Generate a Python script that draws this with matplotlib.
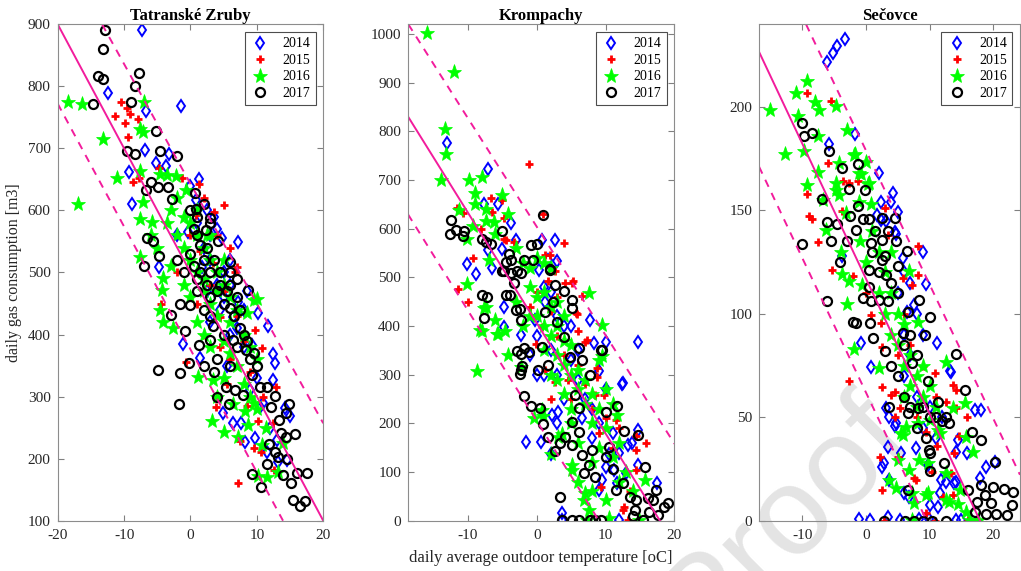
import matplotlib
matplotlib.use("Agg")
import matplotlib.pyplot as plt
import numpy as np

plt.rcParams['font.family'] = ['Liberation Serif', 'DejaVu Serif']
plt.rcParams['axes.unicode_minus'] = False

years = ["2014", "2015", "2016", "2017"]
titles = ["Tatranské Zruby", "Krompachy", "Sečovce"]

# (temperature [oC], gas consumption [m3])
tz_2014 = [(-7.35,891),(-12.4,789),(-1.4,768),(-6.75,760),(-6.8,698),(-9.3,662),(-8.8,610),(-5.2,676),
           (-3.7,671),(-3.3,691),(1.3,650),(0,640),(4.8,555),(7.1,549),(-4.7,509),(0.9,617),(1.7,509),
           (7.2,452),(10.1,434),(11.7,414),(-1.1,384),(6.4,429),(-0.3,566),(12.4,369),(12.7,354),
           (12.5,327),(9.2,383),(4.9,273),(6.4,257),(7.6,257),(9.7,234),(8.2,227),(11.6,211),(15,268),
           (13.2,195),(14.5,198),(14.2,281),(10.5,284),(1.4,362),(2.5,600),(3.5,590),(4,570),(2,540),
           (3,520),(5,500),(6,480),(2.5,470),(4.5,440),(6,400),(8,380),(3,420),(5.5,350),(10,330),
           (9,310),(11,290),(12,250),(13,230),(-2,560),(1,580),(8.5,470),(4,480),(5,460),(7,410),
           (8,440),(3,560),(6,520)]
tz_2015 = [(-10.4,775),(-9.5,765),(-9.1,756),(-11.4,752),(-9.9,741),(-7.9,748),(-9.4,718),(-8.6,646),
           (-7.7,652),(-4.8,668),(-1.3,652),(1.3,642),(5,609),(3.6,598),(7,509),(6.7,501),(0.8,592),
           (1.4,534),(3.4,515),(-4.4,449),(9.7,407),(10.7,379),(4.4,429),(-0.6,356),(3.9,284),
           (12.9,316),(7.1,161),(9.6,217),(10.6,211),(12.6,182),(7.5,229),(10.1,260),(12.5,257),
           (2,620),(4,560),(6,540),(5,470),(3,480),(7,430),(8,390),(6,360),(9,340),(11,300),(2,400),
           (1,450),(-2,500),(0,560),(8.5,285),(5.5,320),(4.5,380)]
tz_2016 = [(-18.4,775),(-16.4,771),(-13.2,715),(-17,610),(-7,775),(-7.6,732),(-7.2,727),(-11.1,652),
           (-7.6,664),(-4.6,659),(-2.2,656),(-7.1,614),(-7.6,586),(-5.8,582),(-7.6,525),(-4.3,472),
           (-4.6,440),(-4.1,421),(-2.6,410),(1.1,332),(3.4,327),(3.2,260),(5,243),(7.2,235),(8.7,254),
           (11.5,171),(10.1,172),(10.7,222),(8.2,276),(9.5,290),(6.4,288),(8.5,435),(9.5,455),(14,225),
           (11.4,249),(13.2,179),(-3.6,657),(-0.6,633),(-4.1,491),(10,458),(-3,600),(-2,560),(-1,540),
           (0,520),(-1,480),(1,500),(2,470),(3,450),(4,430),(1,420),(2,400),(5,390),(6,370),(7,350),
           (5,330),(4,300),(-2,620),(-5,540),(-3,510),(0,460),(3,380),(8,320),(9,300),(10,280),(6,420),
           (-6,560),(-3.5,580),(2.5,560),(1,600),(-1,590),(1,560),(2,540),(3,520),(4,500),(5,480),
           (6,460),(7,440),(4,470),(2,490),(0,580),(3,560),(5,520),(8,400),(9,380),(10,360)]
tz_2017 = [(-12.9,890),(-13.2,860),(-13.9,817),(-13.1,811),(-14.7,772),(-9,775),(-7.7,821),(-8.4,800),
           (-9.6,695),(-8.3,691),(-5.2,728),(-4.6,696),(-2.1,687),(-5.9,646),(-4.9,638),(-6.75,633),
           (-3.4,637),(-2.8,618),(0.7,628),(0.9,603),(-6.6,555),(-5.6,550),(-7,511),(-4.8,527),(2.9,587),
           (2.4,568),(5.9,517),(4.2,550),(8.7,472),(-4.9,343),(-1.6,338),(-1.7,288),(-0.8,405),(-0.2,354),
           (4,300),(5.8,288),(5.4,316),(6.7,311),(7.9,303),(9.2,335),(10.4,316),(11.5,316),(12.7,301),
           (12.2,284),(13.3,262),(13.6,242),(11.9,223),(12.7,211),(13.2,203),(14.5,200),(11.5,192),
           (9.2,176),(10.6,154),(13.9,174),(15.1,160),(16,177),(17.5,177),(15.5,133),(16.5,124),
           (17.2,132),(14.9,288),(14.4,273),(14.4,235),(15.7,239),(8.3,375),(6.4,391),(3,391),(1.3,383),
           (-2.9,432),(-1.6,450),(-0.1,448),(3.4,413),(5.9,442),(0,600),(1,590),(2,610),(0.5,570),
           (1.5,545),(0,530),(2,520),(3,500),(1,490),(2.5,480),(4,470),(3,460),(5,450),(4.5,500),(6,480),
           (7,460),(7.5,440),(8,400),(7,380),(9,360),(10,350),(6,350),(4,360),(5,400),(3,430),(2,440),
           (-1,500),(-2,520),(1,470),(2,350),(3.5,340),(0.5,510),(1.5,500),(2.5,540),(3.5,520),
           (4.5,480),(5.5,470),(6.5,430),(7.5,410),(8.5,390),(9.5,370),(1,560),(3,580),(6,500),(7,490)]

kr_2014 = [(-13,776),(-7.1,723),(-7.6,651),(-7.1,557),(-10.1,528),(-8.8,506),(-6.5,520),(-5,559),
           (-3.8,611),(-3,577),(0.7,577),(2.6,577),(2.9,533),(0.3,516),(-5.7,651),(-4.7,439),(-4.7,398),
           (-1.5,162),(0.6,161),(2.1,138),(7.8,413),(8.3,365),(10,367),(14.7,367),(12.4,280),(10,270),
           (9,308),(9,63),(9.5,84),(11.7,77),(13.2,155),(14.7,186),(17.4,77),(11.9,1),(3.6,15),
           (11.2,104),(2.2,217),(3.1,224),(6.6,210),(10.5,138),(14.7,114),(13.9,159),(-2.3,381),
           (1.7,535),(1.2,449),(-0.3,412),(12.5,282),(3.6,1),(13,97),(1,480),(2,470),(3,420),(4,400),
           (0,380),(2,350),(3,300),(5,330),(6,290),(4,250),(7,250),(8,230),(1,300),(5,400),(6,350),
           (9,200),(11,180),(12,140),(10,110),(8,170),(-1,340),(0,300),(3,200)]
kr_2015 = [(-1.1,733),(0.9,631),(4,570),(-3.3,572),(-4.7,622),(-5.1,658),(-6.6,663),(-6.5,635),
           (-11.6,643),(-10.7,633),(-9.3,540),(-8.1,599),(-11.5,477),(1.2,545),(1.9,545),(2.6,514),
           (1.7,493),(5.1,488),(-4.4,576),(-10,449),(6.6,461),(5.8,425),(7,367),(8.8,313),(8.8,296),
           (8.5,258),(9.7,258),(11.5,207),(11.9,190),(15.9,159),(14.4,174),(14.4,104),(9.3,70),
           (12.5,22),(13.2,1),(13.5,60),(2.1,251),(-0.1,364),(0.7,398),(1.2,309),(2.6,285),(4.6,289),
           (4.1,489),(5.2,492),(5.7,427),(7.3,371),(-4.7,579),(14.4,145),(12.7,29),(0,470),(2,430),
           (3,380),(4,340),(6,320),(7,280),(5,250),(8,230),(10,210),(9,180),(11,150),(-1,440),(3,460),
           (6,390)]
kr_2016 = [(-16,1002),(-12,921),(-13.3,805),(-13.2,754),(-13.9,700),(-9.9,699),(-7.9,706),(-8.9,673),
           (-9,651),(-11.3,639),(-7.4,641),(-5.1,670),(-7.3,615),(-6.2,613),(-9.3,605),(-10.1,579),
           (-4.2,631),(-6.1,590),(-6.9,536),(-10.2,487),(-7.4,439),(-6.1,412),(-7.9,389),(-5.7,383),
           (-4.6,389),(-8.7,308),(-4.2,340),(-2.3,315),(-0.4,210),(0.9,215),(7.6,468),(9.5,402),
           (9.5,338),(11.7,217),(5.1,114),(6.8,42),(7.6,22),(7.3,1),(10,42),(10.5,5),(14.9,1),(15.7,84),
           (3.1,172),(2.1,138),(7,56),(5.1,104),(3.6,179),(0.7,227),(-7.7,436),(-5.8,384),(-8.2,391),
           (-3,560),(-2,530),(-1,520),(0,540),(1,530),(2,520),(-1,480),(0,460),(1,470),(2,440),(3,450),
           (0,420),(1,400),(2,380),(3,400),(4,370),(5,360),(3,340),(4,320),(5,300),(6,310),(7,290),
           (6,270),(8,260),(7,240),(9,230),(8,200),(10,190),(4,260),(5,230),(3,290),(1,350),(-1,420),
           (12,160),(11,130),(13,100),(9,150),(8,120),(6,160),(-3,450),(-2,400),(6,80),(8,60),(12,80),
           (14,60),(5,200),(2,300),(4,420),(9,330),(10,270),(11,240)]
kr_2017 = [(0.9,629),(-12.4,617),(-11.7,598),(-12.6,590),(-10.6,596),(-10.7,584),(-7.9,579),(-7.4,572),
           (-6.6,569),(-5,595),(-0.8,566),(0.1,569),(-0.6,535),(1.9,516),(-4.5,531),(-4,549),(-4.7,514),
           (-3.8,509),(-2.3,509),(-3.3,488),(2.6,484),(-7.9,463),(-7.2,460),(-7.7,417),(-3.9,463),
           (-3,432),(-2.3,413),(-2.9,349),(-1.1,347),(-2.2,317),(-2.4,301),(-1.8,256),(-0.9,235),
           (0.4,231),(0.9,198),(1.7,172),(2.6,143),(3.4,49),(3.6,1),(5.1,1),(6.1,1),(7.8,1),(8.5,1),
           (9.3,1),(3.4,159),(4.1,172),(5.1,155),(6.6,135),(6.8,99),(7.6,114),(8.5,90),(8,146),(10,131),
           (11,107),(11.5,63),(11.7,235),(12.7,185),(14.7,176),(15.7,111),(13.5,49),(14.4,42),(14.2,22),
           (16.2,46),(16.9,42),(17.3,63),(16.3,17),(17.6,12),(18.5,29),(19,37),(9.4,350),(10,224),
           (10.5,152),(12.5,77),(6.1,231),(5.6,258),(7.8,299),(6.6,330),(5.1,203),(6.1,183),(-4.5,463),
           (-2.5,434),(-3.8,535),(-2.8,514),(-5,514),(-1.8,535),(1.9,518),(4,471),(5.1,453),(5.1,436),
           (2.4,449),(1.2,429),(2.9,408),(3.9,378),(0.7,357),(-1.8,354),(-2.3,343),(4.8,336),(6.1,355),
           (9.5,350),(0.2,309),(1.7,319),(-2.3,309),(15.5,1),(14,10)]

se_2014 = [(-6.1,221.6),(-5.2,226),(-4.5,229.6),(-3.3,233),(-5.8,182.3),(-1.7,187),(2.1,168),(4.2,158.4),
           (4,154.3),(2.3,153.9),(5,149),(4.5,139.8),(8.9,129.7),(9.5,114.5),(-3.8,128),(2.3,145.5),
           (5.8,127),(4.8,138.7),(7.6,104.4),(6.5,101),(1.8,147.9),(3.2,144.7),(-0.8,86.1),(0.8,74.5),
           (11.1,85.8),(13.4,72.1),(3.2,54.4),(3.6,50.3),(4.5,45.8),(3.4,35.8),(2.6,26.1),(3.7,19.7),
           (17.1,53.6),(18.1,53.6),(15.8,32.6),(18.9,26.1),(20.2,28.5),(17.9,20.5),(-1.1,0.7),(0.7,0.3),
           (11.8,19.7),(13.9,18.1),(10,7.6),(11.3,6.8),(6,13.3),(5.3,0.3),(15,0.3),(9.7,26.9),(7.9,35),
           (14.2,33.4),(3.4,1.9),(8.4,0.7),(9.9,0.7),(11.6,13.3),(12.6,18.9),(14.1,18.9),(14.2,0.3),
           (13.2,72.6),(4.7,47.1),(2.8,28.1),(6.8,11.6),(5.5,32.6),(14.4,39),(5,110),(6,120),(7,115),
           (8,100),(9,90),(7,80),(6,70),(8,60),(10,55),(9,45),(12,50),(11,40),(6,90)]
se_2015 = [(-9.3,206.8),(-5.5,202.7),(-5.9,172.9),(-3.6,164),(-1.3,164),(-2.6,163.2),(-9.2,157.9),
           (-8.9,147.4),(-8.5,146),(-7.5,134.7),(-3.8,149.5),(3,151.1),(3.4,138.2),(-5.3,121),
           (-2.1,118.5),(8.1,132.6),(8.2,118.9),(7.3,114),(5.8,117.3),(0.8,99.5),(2.4,95.5),(-2.7,67.3),
           (2.6,64.8),(3.9,60.8),(5.3,54.4),(4.6,50.3),(2.2,31),(2.6,14.9),(5,30.7),(9.4,43.1),(11.2,36.1),
           (13.9,32.9),(14.6,41),(12.6,57.6),(13.7,65.6),(14.2,63.2),(10.8,71.3),(10.3,23.7),(12.1,11.6),
           (13.7,12.4),(10.8,0),(2.9,0),(17.5,0.3),(7.6,20.5),(15.8,50.3),(2.6,84.2),(4.5,62.4),
           (7.8,19.7),(9.5,3.6),(13.4,22.9),(14.2,54.4),(16,0.3),(0,110),(6,100),(7,85),(9,75),(11,60),
           (5,80),(8,50)]
se_2016 = [(-15.1,198.4),(-12.7,177.4),(-11,206.8),(-9.2,212.4),(-8,202.2),(-7.4,198.7),(-10.7,195.5),
           (-7.5,185.8),(-9.7,178.5),(-9.2,162.4),(-7.5,168.8),(-6.8,155.2),(-4.7,200.6),(-2.9,188.7),
           (-1.7,177.4),(0,173.2),(-4.2,172.9),(-0.8,167.7),(-4.7,163.2),(0.4,162.7),(-4.2,157.6),
           (-1.1,154.3),(0.8,153.1),(-6.3,140.6),(-3.9,130.1),(-3.7,119.2),(-2.6,116),(-0.6,114),
           (6.8,120.5),(-3.2,148.7),(-2.9,104.8),(-1.8,83.1),(2.1,73.7),(5.5,42.3),(6.3,45.5),(8.1,47.1),
           (5,29.4),(6.8,24.5),(8.4,29.4),(9.7,27.8),(9.7,13.3),(7.6,8.4),(12.6,10),(14.4,8.1),(16.3,0.3),
           (15.7,4.4),(16.8,33.4),(15.7,40.6),(15.5,57.1),(13.7,54.4),(12.6,22.9),(11.6,42.3),(3.7,19.7),
           (7.3,0.3),(-1.8,176.9),(-1.1,168),(0.5,163.2),(-4.7,160),(8.1,96.3),(12.6,76.9),(14.7,14.9),
           (17.6,0.3),(5.8,41.5),(10,48.7),(11.3,43.9),(7.3,13.3),(9.5,12.4),(13.1,9.2),(4.7,15.7),
           (1,140),(2,130),(3,120),(4,110),(5,100),(6,95),(5,85),(4,90),(7,80),(6,75),(8,70),(7,65),
           (9,60),(8,55),(10,65),(3,100),(2,110),(0,125),(-1,135),(4,130),(6,60),(9,75),(11,55)]
se_2017 = [(-10,192.2),(-9.7,185.8),(-8.4,187.4),(-5.8,178.5),(-3.8,170.5),(-1.3,172.6),(-2.7,160.3),
           (-0.1,159.7),(-1.3,151.9),(-6.9,155.5),(-6.1,144.2),(-4.6,143.5),(-5.5,135),(-10.1,133.7),
           (-2.5,147.4),(4.5,146.3),(2.5,146.3),(4.7,135),(6.5,130.5),(5,122.9),(-0.5,145.8),(0.5,145.8),
           (-1.6,140.6),(0.8,134.2),(2.6,135.8),(2.6,126.1),(3.2,118.9),(0.5,121.3),(0.5,113.2),
           (-0.5,107.6),(0.8,106),(2.1,106.8),(3.4,106),(6.6,101.1),(8.4,106.8),(10,98.7),(-2.1,96.3),
           (0.7,95.5),(-6.1,106),(-1.6,95.8),(1.1,88.2),(5.8,90.6),(9.2,89.8),(14.2,80.5),(15.5,63.2),
           (11.3,57.6),(12.6,50.3),(16.6,43.1),(18.1,39),(20.2,28.5),(18.1,17.3),(16,14.9),(18.7,12.4),
           (20,16.5),(21.7,15.2),(23.1,14),(19.7,8.4),(23,7.6),(18.8,3.1),(20.4,3.1),(22.2,2.8),
           (17.1,4.4),(2.8,0),(6.2,0),(7.6,0),(8.9,0),(10.3,0),(12.6,0),(6.6,14.9),(10,32.6),(12.3,27.8),
           (3.7,55.2),(6.6,52),(9.7,67.3),(7.3,76.2),(8.1,54.4),(9.5,39.9),(9.9,34.2),(10.1,24.2),
           (17.5,9.2),(-3,135),(-4,125),(1,130),(2,120),(3,128),(4,115),(1.5,140),(3.5,140),(5,110),
           (6,85),(7,90),(8,80),(5,70),(6,60),(7,55),(8,45),(10,50),(11,50),(12,48),(13,47),(9,55),
           (4,75),(3,82)]

# regression line and band: (intercept, slope) for fit, upper, lower
tz_lines = [(500, -20), (643, -19.3), (376, -19.8)]
kr_lines = [(406, -22.7), (604, -22.3), (205, -22.7)]
se_lines = [(117, -6.53), (179, -6.48), (62, -6.5)]

data = [[tz_2014, tz_2015, tz_2016, tz_2017],
        [kr_2014, kr_2015, kr_2016, kr_2017],
        [se_2014, se_2015, se_2016, se_2017]]
lines = [tz_lines, kr_lines, se_lines]

xlims = [(-20, 20), (-18.7, 20), (-16.8, 24.2)]
ylims = [(100, 900), (0, 1020), (0, 240)]
yticks = [np.arange(100, 901, 100), np.arange(0, 1001, 100), np.arange(0, 201, 50)]
xticks = [[-20, -10, 0, 10, 20], [-10, 0, 10, 20], [-10, 0, 10, 20]]

styles = [dict(marker='d', ms=6.5, mfc='none', mec='#0000ff', mew=1.4),
          dict(marker='+', ms=5.5, mec='#ff0000', mew=2.0),
          dict(marker='*', ms=11, mfc='#00ff00', mec='#00ff00', mew=0.5),
          dict(marker='o', ms=6.5, mfc='none', mec='#000000', mew=1.6)]

pink = '#f21c9c'

fig = plt.figure(figsize=(10.21, 5.71), dpi=100)
fig.text(0.769, 0.089, 'Proof', rotation=45, fontsize=90, color='#e4e4e4',
         ha='center', va='center', zorder=-5, family='Liberation Sans')

lefts = [0.0565, 0.3996, 0.7434]
widths = [0.2601, 0.2610, 0.2556]

for i in range(3):
    ax = fig.add_axes([lefts[i], 0.0881, widths[i], 0.8694])
    ax.patch.set_alpha(0)
    for j, yr in enumerate(years):
        t, q = np.array(data[i][j]).T
        ax.plot(t, q, ls='none', label=yr, **styles[j])
    for k, (a, b) in enumerate(lines[i]):
        ax.axline((0, a), slope=b, color=pink, lw=1.4,
                  ls='-' if k == 0 else (0, (4, 3.5)))
    ax.set_xlim(xlims[i])
    ax.set_ylim(ylims[i])
    ax.set_xticks(xticks[i])
    ax.set_yticks(yticks[i])
    ax.set_title(titles[i], fontsize=12, fontweight='bold', pad=3)
    ax.tick_params(direction='in', top=True, right=True, length=4,
                   color='0.5', labelcolor='0.15', labelsize=11)
    ax.tick_params(axis='x', pad=6)
    ax.tick_params(axis='y', pad=5)
    for s in ax.spines.values():
        s.set_color('0.55')
        s.set_linewidth(0.8)
    leg = ax.legend(loc='upper right', fontsize=10, frameon=True, fancybox=False,
                    edgecolor='0.3', framealpha=1, handlelength=1.4, handletextpad=0.9,
                    labelspacing=0.25, borderpad=0.4, borderaxespad=0.55)
    leg.get_frame().set_linewidth(0.8)
    if i == 0:
        ax.set_ylabel('daily gas consumption [m3]', fontsize=11.5, color='0.15', labelpad=4)
    if i == 1:
        ax.set_xlabel('daily average outdoor temperature [oC]', fontsize=12, color='0.15', labelpad=6)

fig.savefig('out.png', dpi=100)
